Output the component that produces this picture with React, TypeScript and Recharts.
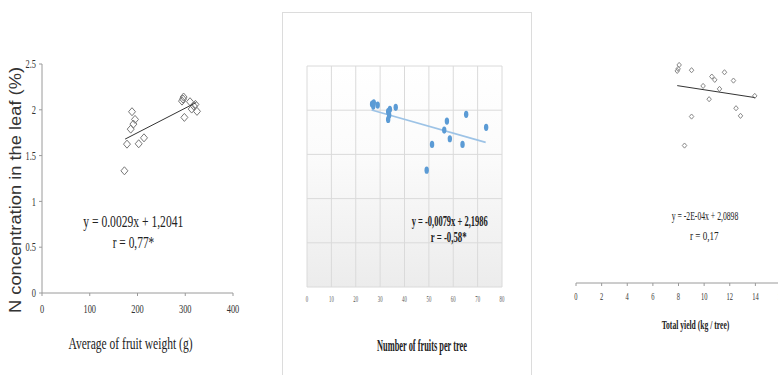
import React from 'react';
import { ScatterChart, Scatter, XAxis, YAxis, CartesianGrid } from 'recharts';

// panel 1: average fruit weight vs leaf N
const weightX = [172.6, 178, 188.5, 194.8, 191.4, 185.8, 202.5, 213.6, 295.3, 296.5, 293.2, 298.2, 310, 313.5, 321.3, 324.6, 318];
const weightN = [1.334, 1.625, 1.979, 1.895, 1.844, 1.789, 1.629, 1.694, 2.117, 2.139, 2.095, 1.917, 2.088, 2.008, 2.059, 1.983, 2.04];
const weightTrendX = [174, 323];
const weightTrendN = [1.68, 2.08];

// panel 2: number of fruits per tree vs leaf N
const fruitsX = [26.7, 27.2, 27.4, 29, 33.3, 33.7, 33.3, 34, 36.4, 49.1, 51.3, 56.3, 57.4, 58.6, 63.8, 65.3, 73.5];
const fruitsN = [2.07, 2.047, 2.084, 2.058, 1.983, 1.945, 1.896, 2.01, 2.032, 1.322, 1.613, 1.775, 1.877, 1.677, 1.613, 1.953, 1.806];
const fruitsTrendX = [26.5, 73.3];
const fruitsTrendN = [2.002, 1.636];

// panel 3: total yield vs leaf N
const yieldX = [7.9, 8.05, 7.97, 9.02, 8.47, 9.02, 9.92, 10.39, 10.6, 10.83, 11.2, 11.59, 12.29, 12.49, 12.84, 13.95];
const yieldN = [2.063, 2.121, 2.083, 2.07, 1.337, 1.619, 1.917, 1.788, 2.008, 1.976, 1.888, 2.05, 1.969, 1.7, 1.626, 1.82];
const yieldTrendX = [7.9, 13.95];
const yieldTrendN = [1.92, 1.804];

const weightTicks = [0, 100, 200, 300, 400];
const nTicks = [0, 0.5, 1, 1.5, 2, 2.5];
const fruitsTicks = [0, 10, 20, 30, 40, 50, 60, 70, 80];
const yieldTicks = [0, 2, 4, 6, 8, 10, 12, 14, 16];

const pts = (xs: number[], ys: number[]) => xs.map((x, i) => ({ x, y: ys[i] }));

const SERIF = 'Liberation Serif, DejaVu Serif, serif';

const squeezedTick = (fontSize: number, squeeze: number, fill: string, vertical = false) => (props: any) => {
  const { x, y, payload } = props;
  return (
    <g transform={`translate(${x},${y})`}>
      <text
        transform={`scale(${squeeze},1)`}
        textAnchor={vertical ? 'end' : 'middle'}
        dy={vertical ? '0.35em' : '0.71em'}
        style={{ fontSize, fontFamily: SERIF, fill }}
      >
        {payload.value}
      </text>
    </g>
  );
};

const Diamond = (size: number, stroke: string) => (props: any) => {
  const { cx, cy } = props;
  if (cx == null || cy == null) return <g />;
  const h = size / 2;
  return (
    <path
      d={`M${cx},${cy - h * 1.15}L${cx + h},${cy}L${cx},${cy + h * 1.15}L${cx - h},${cy}Z`}
      fill="none"
      stroke={stroke}
      strokeWidth={1}
    />
  );
};

const BlueDot = (props: any) => {
  const { cx, cy } = props;
  if (cx == null || cy == null) return <g />;
  return <ellipse cx={cx} cy={cy} rx={2.2} ry={3.6} fill="#5b9bd5" />;
};

const NoDot = () => <g />;

const Txt = ({ x, y, w, size, bold, children, family = SERIF }: any) => (
  <text
    x={x}
    y={y}
    dy="0.35em"
    textAnchor="middle"
    style={{ fontSize: size, fontWeight: bold ? 'bold' : 'normal', fontFamily: family, fill: '#222' }}
    textLength={w}
    lengthAdjust="spacingAndGlyphs"
  >
    {children}
  </text>
);

export default function App() {
  return (
    <div style={{ position: 'absolute', left: 0, top: 0, width: 778, height: 375, overflow: 'hidden', background: '#fff' }}>
      {/* panel 1 */}
      <div style={{ position: 'absolute', left: 0, top: 0 }}>
        <ScatterChart width={260} height={375} margin={{ top: 64, right: 27, bottom: 52, left: 0 }}>
          <XAxis
            type="number"
            dataKey="x"
            domain={[0, 400]}
            ticks={weightTicks}
            interval={0}
            height={30}
            stroke="#9a9a9a"
            tickSize={3}
            tickMargin={8}
            tick={squeezedTick(12, 0.7, '#333')}
          />
          <YAxis
            type="number"
            dataKey="y"
            domain={[0, 2.5]}
            ticks={nTicks}
            interval={0}
            width={42}
            stroke="#9a9a9a"
            tickSize={3}
            tickMargin={3}
            tick={squeezedTick(12, 0.7, '#333', true)}
          />
          <Scatter data={pts(weightX, weightN)} shape={Diamond(7, '#777')} isAnimationActive={false} />
          <Scatter
            data={pts(weightTrendX, weightTrendN)}
            shape={NoDot}
            line={{ stroke: '#333', strokeWidth: 1 }}
            isAnimationActive={false}
          />
        </ScatterChart>
      </div>

      {/* panel 2 frame */}
      <div style={{ position: 'absolute', left: 282, top: 12, width: 250, height: 380, border: '1px solid #dcdcdc', boxSizing: 'border-box' }} />
      <div style={{ position: 'absolute', left: 280, top: 0 }}>
        <ScatterChart width={253} height={375} margin={{ top: 66, right: 31, bottom: 58, left: 27 }}>
          <defs>
            <linearGradient id="plotFill" x1="0" y1="0" x2="0" y2="1">
              <stop offset="0%" stopColor="#ffffff" />
              <stop offset="40%" stopColor="#fbfbfb" />
              <stop offset="100%" stopColor="#ececec" />
            </linearGradient>
          </defs>
          <CartesianGrid stroke="#dadada" fill="url(#plotFill)" />
          <XAxis
            type="number"
            dataKey="x"
            domain={[0, 80]}
            ticks={fruitsTicks}
            interval={0}
            height={30}
            axisLine={false}
            tickLine={false}
            tickSize={0}
            tickMargin={9}
            tick={squeezedTick(8, 0.6, '#555')}
          />
          <YAxis type="number" dataKey="y" domain={[0, 2.5]} ticks={nTicks} hide />
          <Scatter
            data={pts(fruitsTrendX, fruitsTrendN)}
            shape={NoDot}
            line={{ stroke: '#9dc3e6', strokeWidth: 1.6 }}
            isAnimationActive={false}
          />
          <Scatter data={pts(fruitsX, fruitsN)} shape={BlueDot} isAnimationActive={false} />
        </ScatterChart>
      </div>

      {/* panel 3 */}
      <div style={{ position: 'absolute', left: 540, top: 0 }}>
        <ScatterChart width={241} height={375} margin={{ top: 26, right: 0, bottom: 62, left: 36 }}>
          <XAxis
            type="number"
            dataKey="x"
            domain={[0, 16]}
            ticks={yieldTicks}
            interval={0}
            height={30}
            stroke="#9a9a9a"
            tickSize={3}
            tickMargin={7}
            tick={squeezedTick(10, 0.65, '#333')}
          />
          <YAxis type="number" dataKey="y" domain={[0, 2.5]} ticks={nTicks} hide />
          <Scatter data={pts(yieldX, yieldN)} shape={Diamond(4.5, '#888')} isAnimationActive={false} />
          <Scatter
            data={pts(yieldTrendX, yieldTrendN)}
            shape={NoDot}
            line={{ stroke: '#333', strokeWidth: 1 }}
            isAnimationActive={false}
          />
        </ScatterChart>
      </div>

      {/* text overlay */}
      <svg width={778} height={375} style={{ position: 'absolute', left: 0, top: 0, pointerEvents: 'none' }}>
        <g transform="translate(15,190) rotate(-90)">
          <text
            x={0}
            y={0}
            dy="0.35em"
            textAnchor="middle"
            style={{ fontSize: 16, fontFamily: 'Liberation Sans, Arial, sans-serif', fill: '#333' }}
            textLength={246}
            lengthAdjust="spacingAndGlyphs"
          >
            N concentration in the leaf (%)
          </text>
        </g>
        <Txt x={130.5} y={343} w={124} size={17}>Average of fruit weight (g)</Txt>
        <Txt x={133.3} y={221.5} w={100} size={17}>y = 0.0029x + 1,2041</Txt>
        <Txt x={133.5} y={242.5} w={41.6} size={17}>r = 0,77*</Txt>

        <Txt x={422} y={345} w={90} size={16} bold>Number of fruits per tree</Txt>
        <Txt x={449.7} y={221} w={76} size={14} bold>y = -0,0079x + 2,1986</Txt>
        <Txt x={448.7} y={236.7} w={36} size={14} bold>r = -0,58*</Txt>

        <Txt x={705} y={216} w={66.6} size={12}>y = -2E-04x + 2,0898</Txt>
        <Txt x={704.3} y={235.5} w={28.7} size={12}>r = 0,17</Txt>
        <Txt x={695.5} y={324} w={67.6} size={13} bold>Total yield (kg / tree)</Txt>
      </svg>
    </div>
  );
}
